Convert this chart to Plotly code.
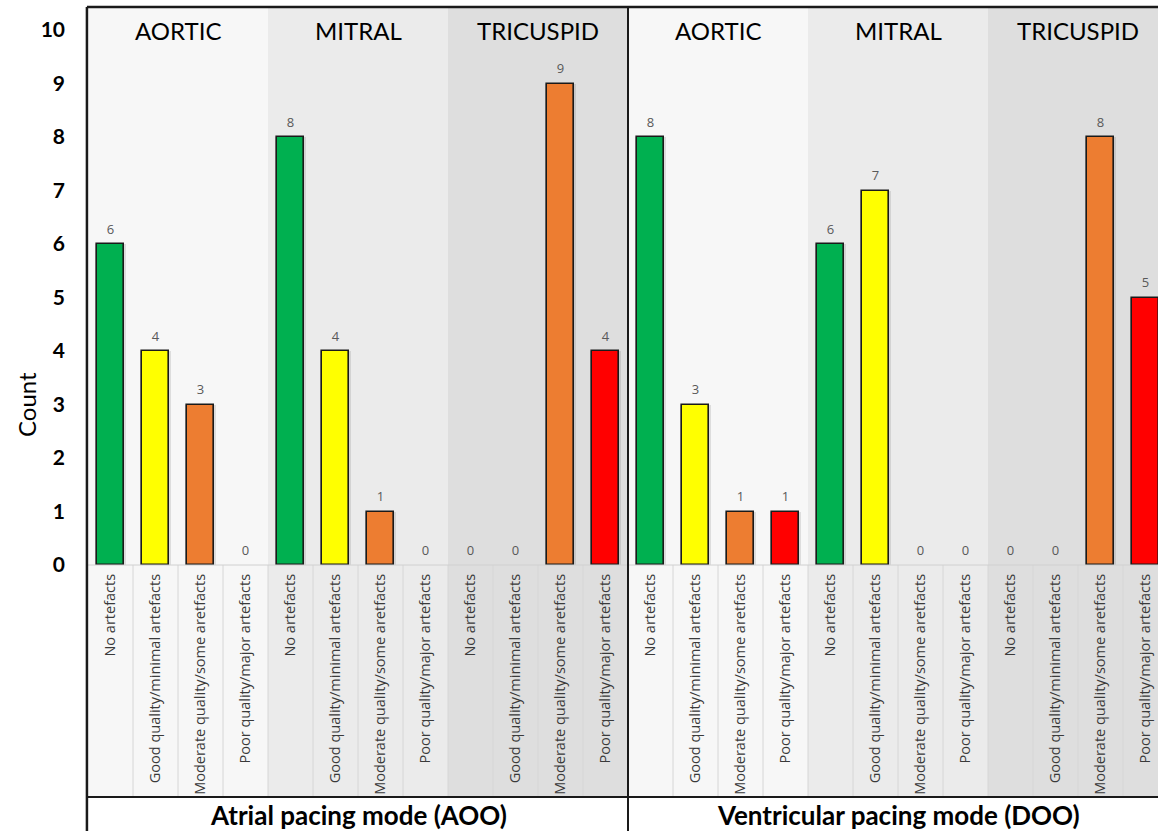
import plotly.graph_objects as go

# ---------------- data ----------------
quality_labels = ["No artefacts", "Good quality/minimal artefacts",
                  "Moderate quality/some aretfacts", "Poor quality/major artefacts"]
quality_colors = ["#00b050", "#ffff00", "#ed7d31", "#ff0000"]
valves = ["AORTIC", "MITRAL", "TRICUSPID"]
modes = ["Atrial pacing mode (AOO)", "Ventricular pacing mode (DOO)"]
band_colors = ["#f7f7f7", "#ebebeb", "#dedede"]

aoo_aortic = [6, 4, 3, 0]
aoo_mitral = [8, 4, 1, 0]
aoo_tricuspid = [0, 0, 9, 4]
doo_aortic = [8, 3, 1, 1]
doo_mitral = [6, 7, 0, 0]
doo_tricuspid = [0, 0, 8, 5]
y_ticks = list(range(0, 11))

groups = [aoo_aortic, aoo_mitral, aoo_tricuspid, doo_aortic, doo_mitral, doo_tricuspid]
values = [v for g in groups for v in g]
nq = len(quality_labels)
xs = list(range(len(values)))
colors = [quality_colors[i % nq] for i in xs]
ticktext = [quality_labels[i % nq] for i in xs]
line_w = [1.6 if v > 0 else 0 for v in values]

W, H = 1158, 831
L, T = 88, 7
zero_px = 565
plot_h = zero_px - T
label_bottom = -(797 - zero_px) / plot_h
fig_bottom = -(H - zero_px) / plot_h

fig = go.Figure()
fig.add_trace(go.Bar(
    x=xs, y=values, width=0.68,
    marker=dict(color="rgba(0,0,0,0.10)", line=dict(width=0)),
    hoverinfo="skip", showlegend=False))
fig.add_trace(go.Bar(
    x=xs, y=values, width=0.6,
    marker=dict(color=colors, line=dict(color="#1a1a1a", width=line_w)),
    showlegend=False))
fig.add_trace(go.Scatter(
    x=xs, y=values, mode="markers+text",
    marker=dict(size=10, opacity=0),
    text=[str(v) for v in values], textposition="top center",
    textfont=dict(family="Open Sans", size=13, color="#595959"),
    cliponaxis=False, showlegend=False, hoverinfo="skip"))

shapes = []
# background bands
for gi in range(len(groups)):
    shapes.append(dict(type="rect", xref="x", yref="paper",
                       x0=gi * nq - 0.5, x1=gi * nq + nq - 0.5,
                       y0=label_bottom, y1=1, fillcolor=band_colors[gi % 3],
                       line=dict(width=0), layer="below"))
# label cell borders
for i in range(len(values) - 1):
    shapes.append(dict(type="line", xref="x", yref="paper",
                       x0=i + 0.5, x1=i + 0.5, y0=label_bottom, y1=0,
                       line=dict(color="#d6d6d6", width=1), layer="below"))
shapes.append(dict(type="line", xref="paper", yref="paper", x0=0, x1=1.05,
                   y0=0, y1=0, line=dict(color="#d0d0d0", width=1)))
# black frame
shapes.append(dict(type="line", xref="paper", yref="paper", x0=-0.001, x1=1.05,
                   y0=label_bottom, y1=label_bottom, line=dict(color="#1a1a1a", width=2)))
shapes.append(dict(type="line", xref="paper", yref="paper", x0=-0.001, x1=1.05,
                   y0=1, y1=1, line=dict(color="#1a1a1a", width=2.5)))
shapes.append(dict(type="line", xref="paper", yref="paper", x0=-0.001, x1=-0.001,
                   y0=fig_bottom, y1=1, line=dict(color="#1a1a1a", width=2.5)))
shapes.append(dict(type="line", xref="x", yref="paper", x0=len(values) / 2 - 0.5,
                   x1=len(values) / 2 - 0.5, y0=fig_bottom, y1=1,
                   line=dict(color="#1a1a1a", width=2)))

annotations = []
for gi in range(len(groups)):
    annotations.append(dict(x=gi * nq + (nq - 1) / 2, y=10, xref="x", yref="y",
                            text=valves[gi % 3], showarrow=False,
                            xanchor="center", yanchor="middle",
                            font=dict(family="Lato", size=24, color="#000000")))
for mi, m in enumerate(modes):
    annotations.append(dict(x=mi * 3 * nq + (3 * nq - 1) / 2,
                            y=-(815 - zero_px) / plot_h, xref="x", yref="paper",
                            text=m, showarrow=False, xanchor="center", yanchor="middle",
                            font=dict(family="Lato", size=26, color="#000000", weight=700)))
annotations.append(dict(x=(26 - L) / (W - L), y=(zero_px - 405) / plot_h,
                        xref="paper", yref="paper", text="Count", textangle=-90,
                        xanchor="center", yanchor="middle",
                        showarrow=False, font=dict(family="Lato", size=24, color="#000000")))

fig.update_layout(
    width=W, height=H,
    margin=dict(l=L, r=0, t=T, b=H - zero_px),
    paper_bgcolor="#ffffff", plot_bgcolor="#ffffff",
    bargap=0, barmode="overlay",
    shapes=shapes, annotations=annotations,
    xaxis=dict(range=[-0.5, (W - L) / 45 - 0.5], tickmode="array", tickvals=xs,
               ticktext=ticktext, tickangle=-90, showgrid=False, zeroline=False,
               showline=False, ticks="", ticklabelstandoff=5,
               tickfont=dict(family="Open Sans", size=14.5, color="#3a3a3a")),
    yaxis=dict(range=[0, plot_h / 53.5], tickmode="array", tickvals=y_ticks,
               showgrid=False, zeroline=False, showline=False, ticks="",
               ticklabelstandoff=22,
               tickfont=dict(family="Lato", size=21, color="#000000", weight=700)),
)

fig.write_html("out.html", config={"displayModeBar": False},
               post_script="document.body.style.margin='0px';")
